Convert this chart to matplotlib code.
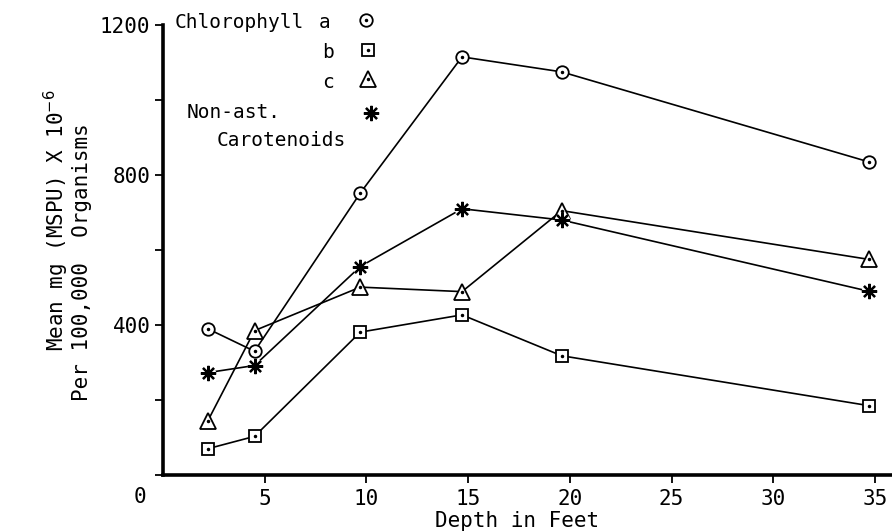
import matplotlib
matplotlib.use('Agg')
import matplotlib.pyplot as plt

# depth (feet) and pigment values
depth = [2.2, 4.5, 9.7, 14.7, 19.6, 34.7]
chl_a = [390, 330, 752, 1115, 1075, 835]
chl_b = [70, 103, 381, 427, 318, 185]
chl_c = [144, 385, 501, 489, 705, 575]
carot = [273, 292, 556, 710, 680, 490]

x_ticks = [5, 10, 15, 20, 25, 30, 35]
y_ticks = [0, 200, 400, 600, 800, 1000, 1200]
y_labels = ['', '', '400', '', '800', '', '1200']

W, H = 892, 531
plt.rcParams['font.family'] = 'DejaVu Sans Mono'
plt.rcParams['mathtext.fontset'] = 'dejavusans'
fig = plt.figure(figsize=(W / 100, H / 100), dpi=100)


def px(x, y):
    return x / W, 1 - y / H


left, bottom = px(163, 475)
_, top = px(0, 25)
ax = fig.add_axes([left, bottom, 1 - left, top - bottom])
ax.set_xlim(0, (W - 163) / 20.34)
ax.set_ylim(0, 1200)

for s in ['top', 'right']:
    ax.spines[s].set_visible(False)
for s in ['left', 'bottom']:
    ax.spines[s].set_linewidth(2.6)

ax.set_xticks(x_ticks)
ax.set_xticklabels([str(t) for t in x_ticks], fontsize=15)
ax.set_yticks(y_ticks)
ax.set_yticklabels(y_labels, fontsize=15)
ax.tick_params(axis='both', direction='out', length=6, width=1.3, pad=3)
ax.tick_params(axis='x', pad=4)

line_kw = dict(color='black', linewidth=1.2, zorder=2)
open_kw = dict(linestyle='none', markerfacecolor='white', markeredgecolor='black',
               markeredgewidth=1.3, zorder=3)
dot_kw = dict(linestyle='none', marker='.', color='black', markersize=3, zorder=4)

# chlorophyll a: circle with dot
ax.plot(depth, chl_a, **line_kw)
ax.plot(depth, chl_a, marker='o', markersize=9, **open_kw)
ax.plot(depth, chl_a, **dot_kw)

# chlorophyll b: square with dot
ax.plot(depth, chl_b, **line_kw)
ax.plot(depth, chl_b, marker='s', markersize=9, **open_kw)
ax.plot(depth, chl_b, **dot_kw)

# chlorophyll c: triangle with dot
ax.plot(depth, chl_c, **line_kw)
ax.plot(depth, chl_c, marker='^', markersize=12, **open_kw)
ax.plot(depth, chl_c, **dot_kw)

# non-astacin carotenoids: star
ax.plot(depth, carot, **line_kw)
ax.plot(depth, carot, linestyle='none', marker='o', markersize=10,
        markerfacecolor='white', markeredgecolor='white', zorder=3)
ax.plot(depth, carot, linestyle='none', marker=(8, 2, 0), markersize=11,
        markeredgewidth=1.6, color='black', zorder=4)

# legend drawn as text + marker, like the original
fs = 14
fig.text(*px(175, 22), 'Chlorophyll', fontsize=fs, va='center', ha='left')
fig.text(*px(325, 22), 'a', fontsize=fs, va='center', ha='center')
fig.text(*px(328, 52), 'b', fontsize=fs, va='center', ha='center')
fig.text(*px(328, 83), 'c', fontsize=fs, va='center', ha='center')
fig.text(*px(187, 112), 'Non-ast.', fontsize=fs, va='center', ha='left')
fig.text(*px(217, 140), 'Carotenoids', fontsize=fs, va='center', ha='left')

lx = [px(366, 20), px(368, 50), px(368, 79), px(371, 113)]
fig.lines.append(plt.Line2D([lx[0][0]], [lx[0][1]], marker='o', markersize=9,
                            transform=fig.transFigure, **open_kw))
fig.lines.append(plt.Line2D([lx[0][0]], [lx[0][1]], transform=fig.transFigure, **dot_kw))
fig.lines.append(plt.Line2D([lx[1][0]], [lx[1][1]], marker='s', markersize=9,
                            transform=fig.transFigure, **open_kw))
fig.lines.append(plt.Line2D([lx[1][0]], [lx[1][1]], transform=fig.transFigure, **dot_kw))
fig.lines.append(plt.Line2D([lx[2][0]], [lx[2][1]], marker='^', markersize=12,
                            transform=fig.transFigure, **open_kw))
fig.lines.append(plt.Line2D([lx[2][0]], [lx[2][1]], transform=fig.transFigure, **dot_kw))
fig.lines.append(plt.Line2D([lx[3][0]], [lx[3][1]], linestyle='none', marker=(8, 2, 0),
                            markersize=11, markeredgewidth=1.6, color='black',
                            transform=fig.transFigure))

# axis titles
fig.text(*px(140, 497), '0', fontsize=15, va='center', ha='center')
fig.text(*px(517, 521), 'Depth in Feet', fontsize=15, va='center', ha='center')
fig.text(*px(56, 220), 'Mean mg (MSPU) X 10$^{-6}$', fontsize=15, rotation=90,
         va='center', ha='center')
fig.text(*px(82, 262), 'Per 100,000  Organisms', fontsize=15, rotation=90,
         va='center', ha='center')

fig.savefig('out.png', dpi=100)
